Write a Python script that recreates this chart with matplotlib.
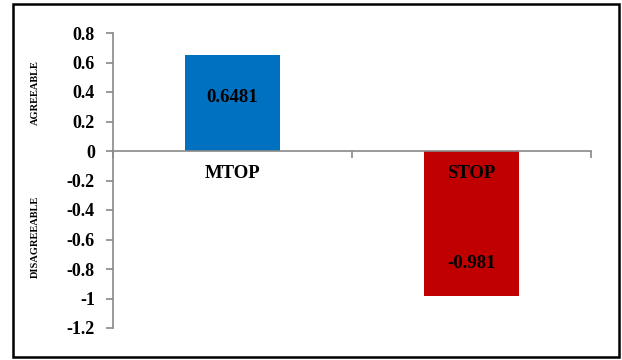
import matplotlib.pyplot as plt
from matplotlib.patches import Rectangle

# Data
categories = ["MTOP", "STOP"]
values = [0.6481, -0.981]
value_labels = ["0.6481", "-0.981"]
bar_colors = ["#0070C0", "#C00000"]
y_ticks = [-1.2, -1.0, -0.8, -0.6, -0.4, -0.2, 0.0, 0.2, 0.4, 0.6, 0.8]
y_tick_labels = ["-1.2", "-1", "-0.8", "-0.6", "-0.4", "-0.2", "0", "0.2", "0.4", "0.6", "0.8"]

plt.rcParams["font.family"] = ["Liberation Serif", "DejaVu Serif"]
plt.rcParams["font.weight"] = "bold"

fig = plt.figure(figsize=(6.22, 3.60), dpi=100)
ax = fig.add_axes([113 / 622, 1 - 328 / 360, (591 - 113) / 622, (328 - 33) / 360])

x = [0, 1]
ax.bar(x, values, width=0.40, color=bar_colors, zorder=2)

ax.set_xlim(-0.5, 1.5)
ax.set_ylim(-1.2, 0.8)

# axis styling
grey = "#898989"
for side in ["top", "right"]:
    ax.spines[side].set_visible(False)
ax.spines["bottom"].set_position(("data", 0))
ax.spines["bottom"].set_color(grey)
ax.spines["left"].set_color(grey)
ax.spines["bottom"].set_linewidth(1.2)
ax.spines["left"].set_linewidth(1.2)

ax.set_yticks(y_ticks)
ax.set_yticklabels(y_tick_labels, fontsize=13, fontweight="bold")
ax.set_xticks([-0.5, 0.5, 1.5])
ax.set_xticklabels([])
ax.tick_params(axis="y", direction="out", length=5, width=1.2, color=grey, pad=8)
ax.tick_params(axis="x", direction="out", length=5, width=1.2, color=grey)

# category labels just below zero line
for xi, name in zip(x, categories):
    ax.text(xi, -0.15, name, ha="center", va="center", fontsize=13.5, fontweight="bold", zorder=3)

# value labels
label_y = [0.36, -0.766]
for xi, ly, lab in zip(x, label_y, value_labels):
    ax.text(xi, ly, lab, ha="center", va="center", fontsize=13.5, fontweight="bold", zorder=3)

# side labels
fig.text(35 / 622, 1 - 93 / 360, "AGREEABLE", rotation=90, ha="center", va="center",
         fontsize=7.5, fontweight="bold")
fig.text(35 / 622, 1 - 237 / 360, "DISAGREEABLE", rotation=90, ha="center", va="center",
         fontsize=7.5, fontweight="bold")

# outer border
fig.patches.append(Rectangle((13 / 622, 3 / 360), (619 - 13) / 622, (357 - 4) / 360,
                             transform=fig.transFigure, fill=False, edgecolor="black",
                             linewidth=1.8))

fig.savefig("out.png", dpi=100)
